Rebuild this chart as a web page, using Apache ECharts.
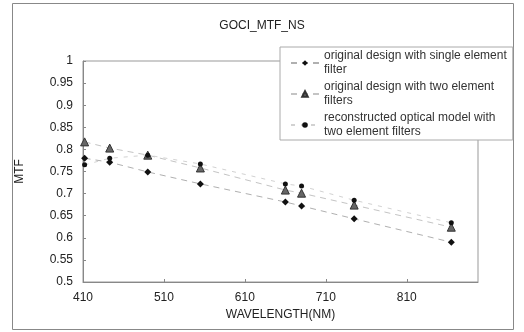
<!DOCTYPE html>
<html><head><meta charset="utf-8">
<script src="https://cdn.jsdelivr.net/npm/echarts@6/dist/echarts.min.js"></script>
<style>html,body{margin:0;padding:0;background:#fff}#c{width:524px;height:332px}</style>
</head><body><div id="c"></div>
<script>
var wavelengths = [412, 443, 490, 555, 660, 680, 745, 865];
var singleElement = [0.780, 0.771, 0.749, 0.722, 0.681, 0.672, 0.643, 0.590];
var twoElement = [0.817, 0.803, 0.787, 0.758, 0.708, 0.701, 0.674, 0.624];
var reconstructed = [0.765, 0.780, 0.787, 0.767, 0.722, 0.717, 0.685, 0.634];
var seriesNames = [
  'original design with single element\nfilter',
  'original design with two element\nfilters',
  'reconstructed optical model with\ntwo element filters'
];
function pairs(vals){ return wavelengths.map(function(w,i){return [w, vals[i]];}); }
var chart = echarts.init(document.getElementById('c'));
var font = 'Liberation Sans, Arial, sans-serif';
chart.setOption({
  animation:false,
  backgroundColor:'#fff',
  title:{text:'GOCI_MTF_NS', left:'center', top:15, textStyle:{fontFamily:font, fontSize:12, fontWeight:'normal', color:'#222'}},
  graphic:[{type:'rect', shape:{x:12.5,y:3.5,width:501,height:326}, style:{fill:'none', stroke:'#888', lineWidth:1}, z:-1}],
  grid:{left:83, right:46, top:61, bottom:50, show:true, borderColor:'#999', borderWidth:1},
  legend:{
    orient:'vertical', left:280, top:47, width:236, padding:[2,6,1,10],
    backgroundColor:'#fff', borderColor:'#aaa', borderWidth:1,
    itemWidth:28, itemHeight:7, itemGap:3,
    textStyle:{fontFamily:font, fontSize:12, color:'#333', lineHeight:14},
    data:seriesNames
  },
  xAxis:{type:'value', min:410, max:898, interval:100, name:'WAVELENGTH(NM)', nameLocation:'middle', nameGap:27,
    nameTextStyle:{fontFamily:font, fontSize:12, color:'#222'},
    axisLine:{lineStyle:{color:'#888'}}, axisTick:{inside:true, length:3, lineStyle:{color:'#888'}},
    splitLine:{show:false},
    axisLabel:{fontFamily:font, fontSize:12, color:'#222', showMaxLabel:false, margin:10}},
  yAxis:{type:'value', min:0.5, max:1, interval:0.05, name:'MTF', nameLocation:'middle', nameGap:57, nameRotate:90,
    nameTextStyle:{fontFamily:font, fontSize:12, color:'#222'},
    axisLine:{show:true, lineStyle:{color:'#888'}}, axisTick:{show:true, inside:true, length:3, lineStyle:{color:'#888'}},
    splitLine:{show:false},
    axisLabel:{fontFamily:font, fontSize:12, color:'#222', margin:10, formatter:function(v){return +v.toFixed(2)+'';}}},
  series:[
    {name:seriesNames[0], type:'line', data:pairs(singleElement), symbol:'diamond', symbolSize:7,
      itemStyle:{color:'#111'}, lineStyle:{color:'#b0b0b0', width:1, type:[6,5]}},
    {name:seriesNames[1], type:'line', data:pairs(twoElement), symbol:'triangle', symbolSize:8,
      itemStyle:{color:'#666', borderColor:'#333', borderWidth:1}, lineStyle:{color:'#c4c4c4', width:1, type:[6,5]}},
    {name:seriesNames[2], type:'line', data:pairs(reconstructed), symbol:'circle', symbolSize:5,
      itemStyle:{color:'#111'}, lineStyle:{color:'#d2d2d2', width:1, type:[4,6]}, z:3}
  ]
});
</script></body></html>
